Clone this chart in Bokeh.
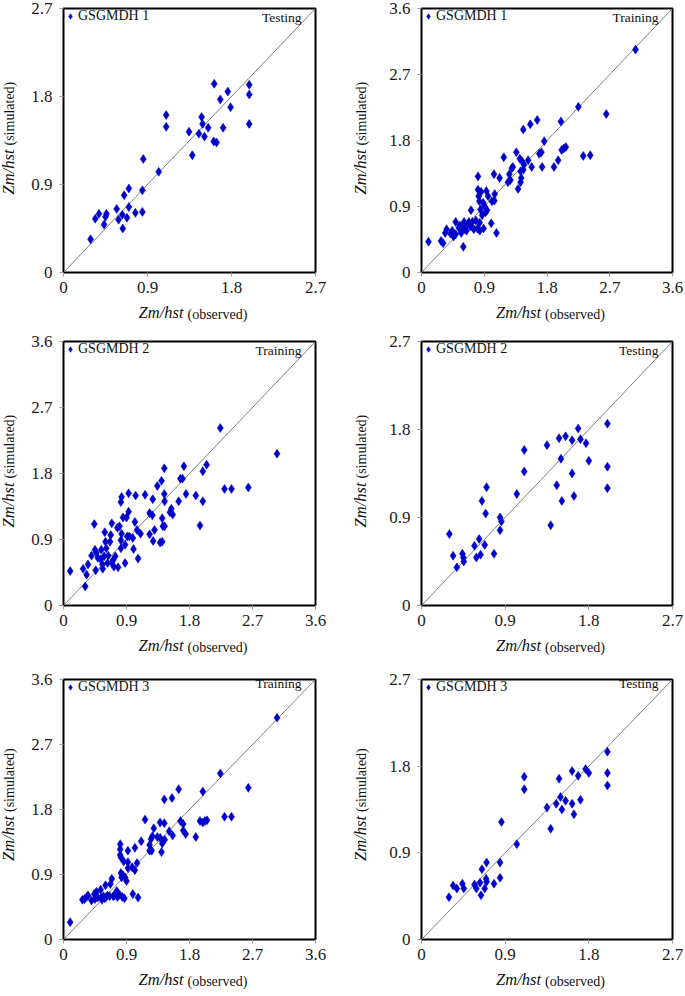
import math
from bokeh.plotting import figure
from bokeh.layouts import column, row
from bokeh.models import Range1d, FixedTicker, CustomJSTickFormatter, Label, ColumnDataSource
from bokeh.embed import file_html
from bokeh.resources import INLINE

# ---------------- data ----------------
# GSGMDH 1 - Testing
g1_test_obs = [0.29, 0.34, 0.38, 0.435, 0.45, 0.46, 0.57, 0.59, 0.63, 0.635, 0.65, 0.68, 0.70, 0.70,
               0.77, 0.845, 0.845, 0.855, 1.02, 1.10, 1.10, 1.345, 1.38, 1.45, 1.48, 1.49, 1.51, 1.55,
               1.61, 1.64, 1.615, 1.68, 1.71, 1.76, 1.79, 1.99, 1.99, 1.99]
g1_test_sim = [0.34, 0.55, 0.60, 0.49, 0.57, 0.60, 0.65, 0.54, 0.59, 0.45, 0.79, 0.56, 0.67, 0.86,
               0.61, 0.62, 0.84, 1.16, 1.03, 1.49, 1.61, 1.44, 1.20, 1.42, 1.59, 1.52, 1.39, 1.48,
               1.34, 1.33, 1.93, 1.77, 1.48, 1.85, 1.69, 1.92, 1.82, 1.52]

# GSGMDH 1 - Training
g1_train_obs = [0.10, 0.28, 0.31, 0.34, 0.36, 0.415, 0.44, 0.46, 0.49, 0.49, 0.535, 0.55, 0.57, 0.58,
                0.60, 0.61, 0.62, 0.645, 0.65, 0.68, 0.70, 0.71, 0.73, 0.75, 0.78, 0.80, 0.81, 0.81,
                0.82, 0.83, 0.835, 0.835, 0.845, 0.855, 0.87, 0.885, 0.89, 0.90, 0.92, 0.93, 0.94,
                0.955, 1.00, 1.01, 1.04, 1.045, 1.05, 1.075, 1.12, 1.18, 1.24, 1.26, 1.275, 1.295,
                1.31, 1.36, 1.385, 1.41, 1.42, 1.42, 1.43, 1.44, 1.46, 1.46, 1.47, 1.53, 1.56, 1.58,
                1.66, 1.69, 1.72, 1.73, 1.76, 1.90, 1.96, 2.00, 2.01, 2.04, 2.07, 2.25, 2.32, 2.42,
                2.65, 3.07]
g1_train_sim = [0.42, 0.43, 0.40, 0.54, 0.59, 0.53, 0.57, 0.49, 0.69, 0.52, 0.61, 0.64, 0.54, 0.63,
                0.35, 0.69, 0.59, 0.57, 0.65, 0.69, 0.63, 0.85, 0.69, 0.59, 0.71, 0.60, 1.31, 1.13,
                1.04, 0.97, 0.68, 0.57, 0.86, 1.10, 0.78, 0.95, 0.60, 0.91, 0.82, 1.11, 0.85,
                1.04, 0.67, 0.97, 1.34, 0.98, 1.07, 0.54, 1.29, 1.57, 1.23, 1.34, 1.26, 1.42,
                1.44, 1.64, 1.14, 1.55, 1.23, 1.38, 1.29, 1.52, 1.95, 1.40, 1.47, 1.53, 2.02, 1.44,
                2.08, 1.62, 1.64, 1.44, 1.79, 1.44, 1.53, 2.06, 1.67, 1.69, 1.71, 2.26, 1.59, 1.60,
                2.16, 3.04]

# GSGMDH 2 - Training
g2_train_obs = [0.095, 0.28, 0.31, 0.33, 0.35, 0.40, 0.44, 0.45, 0.46, 0.47, 0.49, 0.53, 0.54, 0.556,
                0.56, 0.58, 0.59, 0.60, 0.61, 0.63, 0.64, 0.665, 0.675, 0.69, 0.69, 0.71, 0.72, 0.74,
                0.77, 0.78, 0.80, 0.82, 0.82, 0.82, 0.83, 0.83, 0.85, 0.88, 0.88, 0.90, 0.91, 0.93,
                0.93, 0.94, 0.99, 1.00, 1.02, 1.03, 1.05, 1.065, 1.10, 1.165, 1.23, 1.23, 1.27,
                1.275, 1.28, 1.30, 1.34, 1.38, 1.40, 1.41, 1.41, 1.42, 1.44, 1.44, 1.445, 1.445,
                1.52, 1.54, 1.56, 1.645, 1.67, 1.70, 1.72, 1.75, 1.89, 1.95, 1.99, 1.99, 2.045,
                2.24, 2.30, 2.40, 2.64, 3.05]
g2_train_sim = [0.47, 0.50, 0.26, 0.42, 0.56, 0.68, 1.11, 0.76, 0.48, 0.72, 0.65, 0.63, 0.76, 0.56,
                0.50, 0.67, 1.00, 0.87, 0.78, 0.58, 0.68, 0.87, 0.96, 1.12, 0.58, 0.62, 0.53, 0.67,
                1.06, 0.52, 1.08, 1.41, 0.89, 0.78, 1.48, 0.98, 1.20, 0.58, 0.83, 1.20, 0.94, 1.53,
                1.28, 0.94, 0.92, 0.77, 1.14, 1.50, 1.03, 0.64, 0.98, 1.51, 0.97, 1.26, 1.23,
                1.45, 0.88, 1.03, 1.63, 0.86, 1.70, 1.19, 0.87, 1.08, 1.87, 1.52, 1.42, 1.08,
                1.27, 1.32, 1.24, 1.42, 1.73, 1.73, 1.90, 1.52, 1.50, 1.09, 1.83, 1.42, 1.92,
                2.42, 1.59, 1.59, 1.61, 2.07]

# GSGMDH 2 - Testing
g2_test_obs = [0.30, 0.34, 0.38, 0.44, 0.45, 0.455, 0.57, 0.59, 0.62, 0.635, 0.65, 0.68, 0.69, 0.70,
               0.78, 0.845, 0.845, 0.86, 1.025, 1.105, 1.105, 1.35, 1.39, 1.455, 1.48, 1.50, 1.51,
               1.55, 1.62, 1.62, 1.64, 1.685, 1.71, 1.77, 1.80, 2.00, 2.00, 2.00]
g2_test_sim = [0.73, 0.51, 0.39, 0.53, 0.49, 0.45, 0.61, 0.49, 0.68, 0.52, 1.07, 0.62, 0.94, 1.21,
               0.53, 0.90, 0.77, 0.86, 1.14, 1.59, 1.37, 1.64, 0.82, 1.23, 1.71, 1.50, 1.07,
               1.73, 1.69, 1.35, 1.12, 1.81, 1.70, 1.66, 1.48, 1.86, 1.42, 1.20]

# GSGMDH 3 - Training
g3_train_obs = [0.095, 0.27, 0.30, 0.33, 0.35, 0.40, 0.44, 0.45, 0.47, 0.49, 0.53, 0.54, 0.55, 0.57,
                0.59, 0.60, 0.61, 0.63, 0.66, 0.67, 0.69, 0.71, 0.73, 0.76, 0.77, 0.78, 0.80, 0.81,
                0.81, 0.81, 0.82, 0.82, 0.83, 0.84, 0.85, 0.86, 0.87, 0.88, 0.90, 0.92, 0.92, 0.92,
                0.99, 0.98, 1.02, 1.02, 1.05, 1.065, 1.11, 1.165, 1.23, 1.23, 1.25, 1.26, 1.27,
                1.29, 1.34, 1.38, 1.38, 1.40, 1.41, 1.44, 1.44, 1.445, 1.51, 1.55, 1.56, 1.645,
                1.67, 1.71, 1.71, 1.745, 1.89, 1.95, 1.99, 1.99, 2.02, 2.05, 2.24, 2.30, 2.40,
                2.64, 3.05]
g3_train_sim = [0.24, 0.55, 0.56, 0.59, 0.61, 0.54, 0.63, 0.56, 0.66, 0.58, 0.69, 0.58, 0.55, 0.60,
                0.57, 0.75, 0.59, 0.61, 0.60, 0.77, 0.84, 0.60, 0.61, 0.67, 0.59, 0.64, 0.62, 1.32,
                1.25, 1.17, 1.14, 0.92, 0.86, 0.59, 0.89, 1.08, 0.57, 0.86, 0.81, 1.23, 0.99, 1.07,
                0.63, 1.00, 1.27, 0.96, 1.06, 0.58, 1.36, 1.66, 1.23, 1.31, 1.39, 1.23, 1.43,
                1.54, 1.42, 1.41, 1.62, 1.21, 1.33, 1.94, 1.61, 1.38, 1.50, 1.96, 1.44, 2.08,
                1.64, 1.60, 1.51, 1.46, 1.42, 1.64, 2.05, 1.62, 1.64, 1.65, 2.30, 1.70, 1.70,
                2.10, 3.07]

# GSGMDH 3 - Testing
g3_test_obs = [0.295, 0.34, 0.38, 0.44, 0.455, 0.57, 0.59, 0.63, 0.64, 0.65, 0.68, 0.695, 0.70, 0.70,
               0.78, 0.845, 0.845, 0.86, 1.025, 1.105, 1.105, 1.35, 1.39, 1.45, 1.48, 1.495, 1.51,
               1.55, 1.62, 1.62, 1.64, 1.685, 1.71, 1.765, 1.80, 2.00, 2.00, 2.00]
g3_test_sim = [0.44, 0.56, 0.53, 0.58, 0.53, 0.57, 0.53, 0.59, 0.46, 0.73, 0.53, 0.63, 0.60, 0.80,
               0.58, 0.80, 0.64, 1.22, 0.99, 1.69, 1.56, 1.37, 1.15, 1.41, 1.67, 1.48, 1.35,
               1.44, 1.75, 1.41, 1.30, 1.70, 1.45, 1.77, 1.73, 1.95, 1.73, 1.60]

ticks_27 = [0, 0.9, 1.8, 2.7]
ticks_36 = [0, 0.9, 1.8, 2.7, 3.6]

x_title = ("Zm/hst", "(observed)")
y_title = ("Zm/hst", "(simulated)")

panels = [
    # (obs, sim, axis max, ticks, legend, tag)
    (g1_test_obs, g1_test_sim, 2.7, ticks_27, "GSGMDH 1", "Testing"),
    (g1_train_obs, g1_train_sim, 3.6, ticks_36, "GSGMDH 1", "Training"),
    (g2_train_obs, g2_train_sim, 3.6, ticks_36, "GSGMDH 2", "Training"),
    (g2_test_obs, g2_test_sim, 2.7, ticks_27, "GSGMDH 2", "Testing"),
    (g3_train_obs, g3_train_sim, 3.6, ticks_36, "GSGMDH 3", "Training"),
    (g3_test_obs, g3_test_sim, 2.7, ticks_27, "GSGMDH 3", "Testing"),
]

# ---------------- styling / layout ----------------
SERIF = "Liberation Serif"
BLUE = "#0000cc"
TXT = "#111111"

# per row: (min_border_top, frame_height, min_border_bottom)
row_geom = [(8, 264, 57), (12, 264, 64), (10, 265, 52)]
# per column: (min_border_left, frame_width, min_border_right)
col_geom = [(63, 252, 37), (69, 251, 13)]

fmt = CustomJSTickFormatter(code="return tick == 0 ? '0' : tick.toFixed(1);")


def make_panel(idx, obs, sim, vmax, ticks, legend, tag):
    r, c = divmod(idx, 2)
    bt, fh, bb = row_geom[r]
    bl, fw, br = col_geom[c]
    p = figure(width=bl + fw + br, height=bt + fh + bb,
               x_range=Range1d(0, vmax), y_range=Range1d(0, vmax),
               output_backend="svg", toolbar_location=None,
               min_border_left=bl, min_border_right=br,
               min_border_top=bt, min_border_bottom=bb)
    p.outline_line_color = "black"
    p.outline_line_width = 2
    p.xgrid.visible = False
    p.ygrid.visible = False
    p.background_fill_color = "white"
    p.border_fill_color = "white"
    for ax in (p.xaxis[0], p.yaxis[0]):
        ax.ticker = FixedTicker(ticks=ticks)
        ax.formatter = fmt
        ax.axis_line_color = None
        ax.major_tick_line_color = "#9a9a9a"
        ax.major_tick_in = 0
        ax.major_tick_out = 4
        ax.minor_tick_line_color = None
        ax.major_label_text_font = SERIF
        ax.major_label_text_font_size = "17px"
        ax.major_label_text_color = "#1a1a1a"
    p.xaxis.major_label_standoff = 5
    p.yaxis.major_label_standoff = 7

    # 1:1 line
    p.line([0, vmax], [0, vmax], line_color="#7f7f7f", line_width=1)

    src = ColumnDataSource(data=dict(x=obs, y=sim))
    p.scatter("x", "y", source=src, marker="diamond", size=9,
              fill_color=BLUE, line_color=BLUE, line_width=0.5, legend_label=legend)

    lg = p.legend[0]
    lg.location = "top_left"
    lg.border_line_color = None
    lg.background_fill_alpha = 0
    lg.margin = 0
    lg.padding = 1
    lg.spacing = 0
    lg.glyph_width = 14
    lg.glyph_height = 16
    lg.label_standoff = 1
    lg.label_text_font = SERIF
    lg.label_text_font_size = "14px"
    lg.label_text_color = TXT
    lg.label_height = 16

    # tag (top-right, inside frame)
    p.add_layout(Label(x=fw - 14, y=fh - 9, x_units="screen", y_units="screen", text=tag,
                       text_font=SERIF, text_font_size="13.5px", text_color=TXT,
                       text_align="right", text_baseline="middle"))

    # x-axis title: italic part + plain part (side panels below the axis)
    p.add_layout(Label(x=fw / 2 - 6, y=2, x_units="screen", y_units="screen",
                       text=x_title[0], text_font=SERIF, text_font_style="italic",
                       text_font_size="16.5px", text_color=TXT,
                       text_align="right", text_baseline="alphabetic"), "below")
    p.add_layout(Label(x=fw / 2 - 2, y=15, x_units="screen", y_units="screen",
                       text=x_title[1], text_font=SERIF,
                       text_font_size="14px", text_color=TXT,
                       text_align="left", text_baseline="alphabetic"), "below")
    # y-axis title (rotated, side panels)
    if c == 0:
        ital_x, plain_x, plain_side = -1.5, -(bl + fw) + 15 - 6.5, "right"
    else:
        ital_x, plain_x, plain_side = -7.5, 8.5, "left"
    p.add_layout(Label(x=ital_x, y=fh / 2 - 9, x_units="screen", y_units="screen",
                       text=y_title[0], text_font=SERIF, text_font_style="italic",
                       text_font_size="16.5px", text_color=TXT, angle=math.pi / 2,
                       text_align="right", text_baseline="alphabetic"), "left")
    p.add_layout(Label(x=plain_x, y=fh / 2 - 5, x_units="screen", y_units="screen",
                       text=y_title[1], text_font=SERIF,
                       text_font_size="14px", text_color=TXT, angle=math.pi / 2,
                       text_align="left", text_baseline="alphabetic"), plain_side)
    return p


figs = [make_panel(i, *pan) for i, pan in enumerate(panels)]
layout = column(row(figs[0], figs[1]), row(figs[2], figs[3]), row(figs[4], figs[5]))

open("out.html", "w").write(file_html(layout, INLINE))
